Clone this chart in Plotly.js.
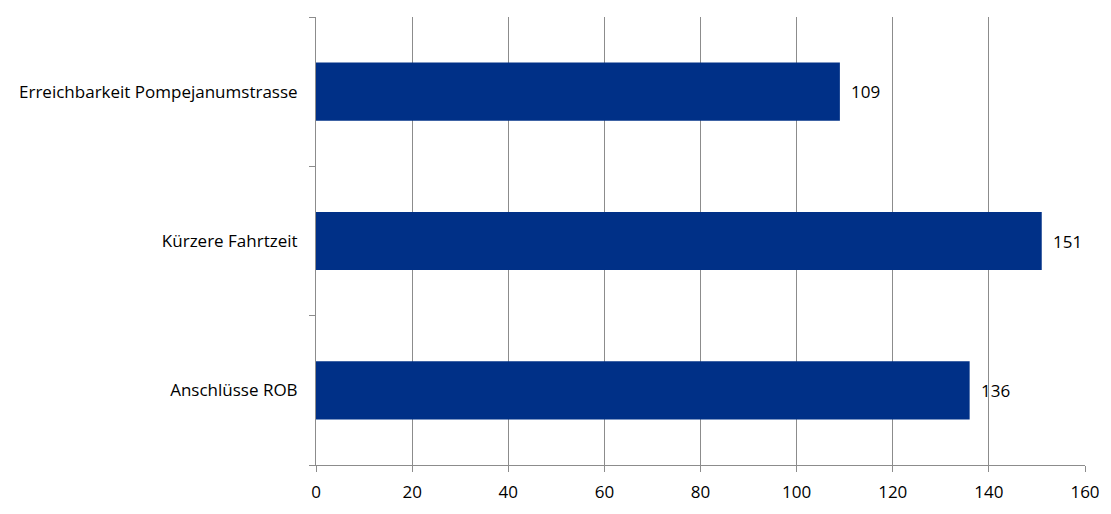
<!DOCTYPE html>
<html>
<head>
<meta charset="utf-8">
<script src="https://cdn.plot.ly/plotly-3.0.1.min.js"></script>
<style>html,body{margin:0;padding:0;background:#fff;}#chart{width:1111px;height:514px;}</style>
</head>
<body>
<div id="chart"></div>
<script>
const categories = ["Anschlüsse ROB", "Kürzere Fahrtzeit", "Erreichbarkeit Pompejanumstrasse"];
const values = [136, 151, 109];
const xTicks = [0, 20, 40, 60, 80, 100, 120, 140, 160];

const trace = {
  type: "bar",
  orientation: "h",
  y: categories,
  x: values,
  cliponaxis: false,
  marker: {color: "#003087"},
  hoverinfo: "x+y"
};

const annotations = categories.map((c, i) => ({
  x: values[i], y: c, xref: "x", yref: "y",
  text: String(values[i]),
  showarrow: false, xanchor: "left", yanchor: "middle",
  xshift: 9,
  font: {family: "Open Sans, sans-serif", size: 17, color: "#000"}
}));

const layout = {
  width: 1111, height: 514,
  margin: {l: 316, r: 26, t: 17, b: 49},
  paper_bgcolor: "#fff", plot_bgcolor: "#fff",
  bargap: 0.61,
  showlegend: false,
  annotations: annotations,
  font: {family: "Open Sans, sans-serif", size: 17, color: "#000"},
  xaxis: {
    range: [0, 160],
    tickvals: xTicks,
    ticktext: xTicks.map(String),
    showgrid: true, gridcolor: "#8c8c8c", gridwidth: 1,
    zeroline: false,
    showline: true, linecolor: "#8c8c8c", linewidth: 1,
    ticks: "outside", ticklen: 6, tickcolor: "#8c8c8c",
    ticklabelstandoff: 6,
    tickfont: {size: 17}
  },
  yaxis: {
    showgrid: false, zeroline: false,
    showline: true, linecolor: "#8c8c8c", linewidth: 1,
    ticks: "outside", ticklen: 6, tickcolor: "#8c8c8c",
    tickson: "boundaries",
    ticklabelstandoff: 14,
    tickfont: {size: 17}
  }
};

Plotly.newPlot("chart", [trace], layout, {displayModeBar: false, staticPlot: true});
</script>
</body>
</html>
